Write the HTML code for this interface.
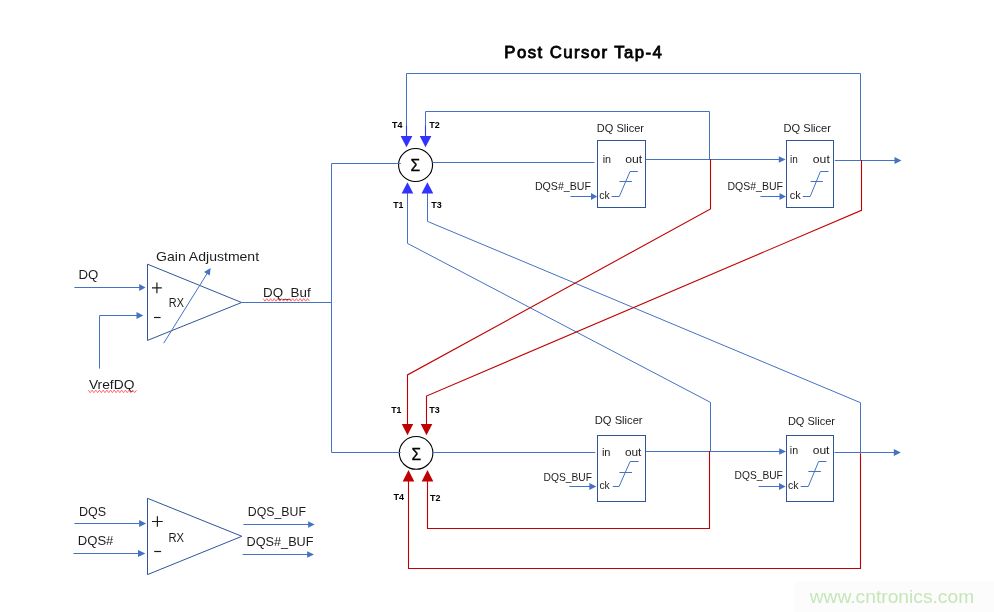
<!DOCTYPE html>
<html><head><meta charset="utf-8">
<style>
html,body{margin:0;padding:0;background:#fff;}
body{width:994px;height:612px;overflow:hidden;}
svg{display:block;will-change:transform;opacity:0.999;}
text{font-family:"Liberation Sans",sans-serif;fill:#1c1c1c;}
.b{stroke:#4472C4;stroke-width:1;fill:none;}
.r{stroke:#C00000;stroke-width:1.1;fill:none;}
.bx{stroke:#2F5597;stroke-width:1;fill:#fff;}
.ah{fill:#4472C4;stroke:none;}
.bh{fill:#3333FF;stroke:none;}
.rh{fill:#C00000;stroke:none;}
.t{font-size:8.4px;font-weight:bold;fill:#000;}
.l{font-size:10.6px;}
.m{font-size:13.4px;}
.pm{stroke:#1c1c1c;stroke-width:1.2;fill:none;}
.sq{stroke:#FF4848;stroke-width:0.8;fill:none;}
</style></head><body>
<svg width="994" height="612" viewBox="0 0 994 612">
<rect width="994" height="612" fill="#fff"/>
<!-- title -->
<text x="504.3" y="58.4" font-size="16.8" style="fill:#000;stroke:#000;stroke-width:0.8px" textLength="157.6" lengthAdjust="spacing">Post Cursor Tap-4</text>

<!-- feedback blue loops (top) -->
<path class="b" d="M406.5,137 V73.5 H860.5 V160.5"/>
<path class="b" d="M425.5,137 V111.5 H709.5 V159.5"/>
<!-- blue diagonals to bottom -->
<path class="b" d="M407.5,192 V243.4 L710.5,402.4 V451.5"/>
<path class="b" d="M427.5,192 V221.4 L860.5,402.7 V452.5"/>

<!-- main bus -->
<path class="b" d="M241.4,302.5 H331.5"/>
<!-- slicer out lines -->
<path class="b" d="M646,159.5 H780"/>
<path class="b" d="M834.8,160.5 H895"/>
<path class="b" d="M646,451.5 H780"/>
<path class="b" d="M834.5,452.5 H895"/>
<polygon class="ah" points="785.6,159.5 778.8,156.2 778.8,162.8"/>
<polygon class="ah" points="901.5,160.5 894.5,157 894.5,164"/>
<polygon class="ah" points="786,451.5 779.2,448.2 779.2,454.8"/>
<polygon class="ah" points="900.8,452.5 893.8,449 893.8,456"/>

<!-- red diagonals -->
<path class="r" d="M710.5,159 V209 L407.5,374.9 V426"/>
<path class="r" d="M861.5,160 V210.3 L426.5,396 V426"/>
<!-- red bottom loops -->
<path class="r" d="M709.5,451 V528.5 H427.5 V480"/>
<path class="r" d="M860.5,453.2 V568.5 H408.5 V480"/>

<!-- sigma circles -->
<ellipse cx="415.55" cy="165" rx="17" ry="16.55" fill="#fff" stroke="#000" stroke-width="1.1"/>
<ellipse cx="416.1" cy="452.9" rx="16.8" ry="16.4" fill="#fff" stroke="#000" stroke-width="1.1"/>
<path class="b" d="M331.5,452.5 H400.7 M400.8,163.5 H331.5 V452.5"/>
<!-- sigma to slicer lines -->
<path class="b" d="M432.4,162.5 H594.5"/>
<path class="b" d="M433.4,452.5 H595.3"/>
<text x="410.6" y="170.9" font-size="16.5" style="fill:#000;stroke:#000;stroke-width:0.3px" textLength="9.6" lengthAdjust="spacingAndGlyphs">Σ</text>
<text x="411.4" y="459.5" font-size="16.5" style="fill:#000;stroke:#000;stroke-width:0.3px" textLength="9.6" lengthAdjust="spacingAndGlyphs">Σ</text>

<!-- blue arrowheads at top sigma -->
<path d="M406.5,125.8 V137 M425.5,125.8 V137" stroke="#3333FF" stroke-width="1.1" fill="none"/>
<polygon class="bh" points="400.6,135.9 412.4,135.9 406.5,147.2"/>
<polygon class="bh" points="419.7,135.9 431.4,135.9 425.5,147.2"/>
<polygon class="bh" points="401.6,193.6 413.3,193.6 407.5,182.3"/>
<polygon class="bh" points="421.5,193.6 433.3,193.6 427.4,182.3"/>
<!-- red arrowheads at bottom sigma -->
<polygon class="rh" points="401.8,424 413.2,424 407.5,435.2"/>
<polygon class="rh" points="420.7,424 432.3,424 426.5,435.2"/>
<polygon class="rh" points="402.7,481.4 414.3,481.4 408.5,470"/>
<polygon class="rh" points="421.7,481.4 433.3,481.4 427.5,470"/>

<!-- T labels -->
<text class="t" x="392.1" y="127.7" textLength="10.5" lengthAdjust="spacingAndGlyphs">T4</text>
<text class="t" x="429.2" y="127.7" textLength="10.5" lengthAdjust="spacingAndGlyphs">T2</text>
<text class="t" x="393.2" y="207.7" textLength="10.2" lengthAdjust="spacingAndGlyphs">T1</text>
<text class="t" x="431.3" y="207.7" textLength="10.5" lengthAdjust="spacingAndGlyphs">T3</text>
<text class="t" x="391.2" y="413.2" textLength="10.2" lengthAdjust="spacingAndGlyphs">T1</text>
<text class="t" x="429.3" y="413.2" textLength="10.5" lengthAdjust="spacingAndGlyphs">T3</text>
<text class="t" x="393.4" y="500" textLength="10.5" lengthAdjust="spacingAndGlyphs">T4</text>
<text class="t" x="430.1" y="501.2" textLength="10.5" lengthAdjust="spacingAndGlyphs">T2</text>

<!-- slicers -->
<g id="s1">
<rect class="bx" x="597.5" y="140.5" width="48" height="67"/>
<text class="l" x="596.8" y="131.9" textLength="47.2" lengthAdjust="spacingAndGlyphs">DQ Slicer</text>
<text class="l" x="602.7" y="162.6" textLength="8.4" lengthAdjust="spacingAndGlyphs">in</text>
<text class="l" x="625.2" y="162.6" textLength="17" lengthAdjust="spacingAndGlyphs">out</text>
<text class="l" x="599.3" y="198.7" textLength="10.5" lengthAdjust="spacingAndGlyphs">ck</text>
<path class="b" d="M611.6,196.5 H619.3 L630,171.5 H637.8 M619.4,181.5 H631.9"/>
<text class="l" x="534.9" y="189.9" textLength="56.1" lengthAdjust="spacingAndGlyphs">DQS#_BUF</text>
<path class="b" d="M570.5,196.5 H592"/>
<polygon class="ah" points="597.2,196.5 591,193 591,200"/>
</g>
<g id="s2">
<rect class="bx" x="786.5" y="140.5" width="47" height="67"/>
<text class="l" x="783.5" y="131.8" textLength="47.5" lengthAdjust="spacingAndGlyphs">DQ Slicer</text>
<text class="l" x="790.1" y="162.7" textLength="7.8" lengthAdjust="spacingAndGlyphs">in</text>
<text class="l" x="812.8" y="162.7" textLength="17" lengthAdjust="spacingAndGlyphs">out</text>
<text class="l" x="789.8" y="198.8" textLength="11" lengthAdjust="spacingAndGlyphs">ck</text>
<path class="b" d="M802.8,196.5 H810.2 L820.4,171.5 H828.5 M810.6,181.5 H822.9"/>
<text class="l" x="727.5" y="189.7" textLength="55.5" lengthAdjust="spacingAndGlyphs">DQS#_BUF</text>
<path class="b" d="M760.5,196.5 H781"/>
<polygon class="ah" points="785.9,196.5 779.5,193 779.5,200"/>
</g>
<g id="s3">
<rect class="bx" x="597.5" y="435.5" width="48" height="66"/>
<text class="l" x="594.8" y="424.1" textLength="47.8" lengthAdjust="spacingAndGlyphs">DQ Slicer</text>
<text class="l" x="601.9" y="455.5" textLength="8.6" lengthAdjust="spacingAndGlyphs">in</text>
<text class="l" x="624.9" y="455.5" textLength="16.5" lengthAdjust="spacingAndGlyphs">out</text>
<text class="l" x="599.5" y="489" textLength="10.2" lengthAdjust="spacingAndGlyphs">ck</text>
<path class="b" d="M612.8,486.5 H619.1 L630.1,461.5 H638.7 M619.4,472.5 H632"/>
<text class="l" x="543.5" y="481.1" textLength="48.5" lengthAdjust="spacingAndGlyphs">DQS_BUF</text>
<path class="b" d="M569.4,486.5 H591"/>
<polygon class="ah" points="596.4,486.5 589.3,483 589.3,490"/>
</g>
<g id="s4">
<rect class="bx" x="786.5" y="435.5" width="47" height="66"/>
<text class="l" x="787.9" y="424.9" textLength="47.1" lengthAdjust="spacingAndGlyphs">DQ Slicer</text>
<text class="l" x="789.8" y="454.1" textLength="8.3" lengthAdjust="spacingAndGlyphs">in</text>
<text class="l" x="812.7" y="454.1" textLength="16.8" lengthAdjust="spacingAndGlyphs">out</text>
<text class="l" x="787.9" y="489.1" textLength="10.5" lengthAdjust="spacingAndGlyphs">ck</text>
<path class="b" d="M800.7,486.5 H808.3 L818.6,461.5 H826.4 M808.3,471.5 H820.9"/>
<text class="l" x="734.6" y="478.5" textLength="48.2" lengthAdjust="spacingAndGlyphs">DQS_BUF</text>
<path class="b" d="M758.5,486.5 H780"/>
<polygon class="ah" points="785.6,486.5 779,483 779,490"/>
</g>

<!-- left amp 1 -->
<polygon points="147.5,264.2 147.5,340.4 241.6,302.5" fill="#fff" stroke="#2F5597" stroke-width="1"/>
<path class="b" d="M74.4,287.5 H140"/>
<polygon class="ah" points="145.5,287.5 139.2,284 139.2,291"/>
<path class="b" d="M99.5,368.6 V315.5 H137"/>
<polygon class="ah" points="143.3,315.5 136.5,312 136.5,319"/>
<path class="b" d="M163.7,343.2 L208.5,271.3"/>
<polygon class="ah" points="210.6,267.9 209.8,275.6 204,272"/>
<text class="m" x="156.1" y="260.7" textLength="103" lengthAdjust="spacingAndGlyphs">Gain Adjustment</text>
<text class="m" x="78.6" y="279" textLength="19.8" lengthAdjust="spacingAndGlyphs">DQ</text>
<path class="pm" d="M152,287.8 H161.8 M156.9,282.4 V293.2"/>
<path class="pm" d="M154,317.5 H160.6"/>
<text class="m" x="168.8" y="307.4" textLength="15.1" lengthAdjust="spacingAndGlyphs">RX</text>
<text class="m" x="263.1" y="297.3" textLength="47.5" lengthAdjust="spacingAndGlyphs">DQ_Buf</text>
<text class="m" x="88.9" y="389.4" textLength="45.5" lengthAdjust="spacingAndGlyphs">VrefDQ</text>

<polyline class="sq" points="263.1,298.6 265.0,301.2 266.8,298.6 268.7,301.2 270.5,298.6 272.4,301.2 274.2,298.6 276.1,301.2 277.9,298.6 279.8,301.2 281.6,298.6 283.5,301.2 285.3,298.6 287.2,301.2 289.0,298.6 290.9,301.2 292.7,298.6 294.6,301.2 296.4,298.6 298.3,301.2 300.1,298.6 302.0,301.2 303.8,298.6 305.7,301.2 307.5,298.6 309.4,301.2"/>
<polyline class="sq" points="88.4,390.1 90.2,392.7 92.1,390.1 93.9,392.7 95.8,390.1 97.6,392.7 99.5,390.1 101.3,392.7 103.2,390.1 105.0,392.7 106.9,390.1 108.7,392.7 110.6,390.1 112.4,392.7 114.3,390.1 116.1,392.7 118.0,390.1 119.8,392.7 121.7,390.1 123.5,392.7 125.4,390.1 127.2,392.7 129.1,390.1 130.9,392.7 132.8,390.1 134.6,392.7 136.5,390.1"/>
<!-- left amp 2 -->
<polygon points="147.5,498.3 147.5,574.6 241.9,536.3" fill="#fff" stroke="#2F5597" stroke-width="1"/>
<path class="b" d="M74.4,523.5 H140"/>
<polygon class="ah" points="146.1,523.5 139.1,520.1 139.1,526.9"/>
<path class="b" d="M73.4,553.5 H139"/>
<polygon class="ah" points="145.4,553.5 138,550.1 138,556.9"/>
<path class="b" d="M243.4,524.5 H309"/>
<polygon class="ah" points="314.7,524.5 308.1,521.2 308.1,527.8"/>
<path class="b" d="M242.6,554.5 H308"/>
<polygon class="ah" points="314,554.5 307.1,551.2 307.1,557.8"/>
<text class="m" x="78.9" y="516" textLength="27.1" lengthAdjust="spacingAndGlyphs">DQS</text>
<text class="m" x="77.8" y="544.9" textLength="35.6" lengthAdjust="spacingAndGlyphs">DQS#</text>
<text class="m" x="247.8" y="515.7" textLength="58.1" lengthAdjust="spacingAndGlyphs">DQS_BUF</text>
<text class="m" x="246.6" y="545.6" textLength="66.9" lengthAdjust="spacingAndGlyphs">DQS#_BUF</text>
<path class="pm" d="M152,521.5 H162.8 M157.4,516.2 V526.8"/>
<path class="pm" d="M154.2,551.5 H161.1"/>
<text class="m" x="168.5" y="541.8" textLength="15.6" lengthAdjust="spacingAndGlyphs">RX</text>

<!-- watermark -->
<rect x="794" y="582" width="200" height="30" fill="#fcfcfc"/>
<text x="809.7" y="602.7" font-size="19" style="fill:#c6e6b8" textLength="164.5" lengthAdjust="spacingAndGlyphs">www.cntronics.com</text>
</svg>
</body></html>
